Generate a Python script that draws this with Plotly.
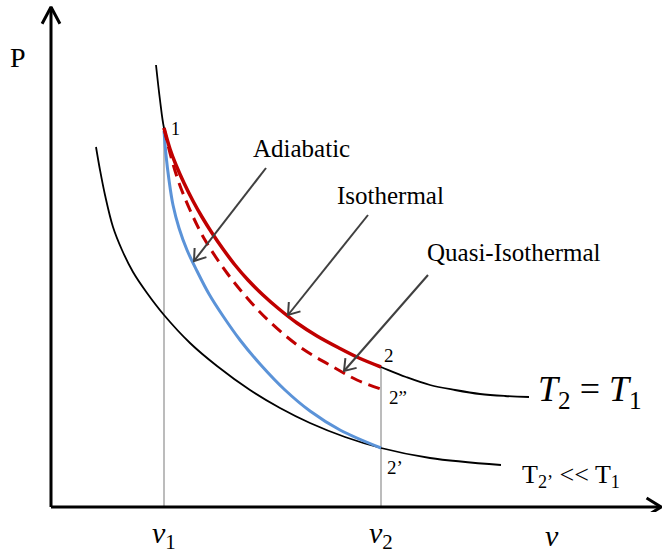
import math
import plotly.graph_objects as go

# ---------------- data (schematic P-v diagram, arbitrary units) ----------------
v1 = 1.13
v2 = 3.30

# upper isotherm  T2 = T1
upper_v = [1.05, 1.09, 1.13, 1.19, 1.25, 1.33, 1.42, 1.51, 1.61, 1.72, 1.84, 1.97, 2.12, 2.28,
           2.46, 2.66, 2.88, 3.08, 3.30, 3.55, 3.79, 4.04, 4.29, 4.54, 4.78]
upper_P = [4.42, 4.07, 3.79, 3.58, 3.42, 3.24, 3.06, 2.90, 2.74, 2.58, 2.42, 2.27, 2.12, 1.98,
           1.84, 1.71, 1.59, 1.49, 1.40, 1.30, 1.22, 1.17, 1.13, 1.11, 1.10]

# lower isotherm  T2' << T1
lower_v = [0.45, 0.49, 0.54, 0.62, 0.71, 0.82, 0.96, 1.13, 1.39, 1.66, 1.99, 2.29, 2.59, 2.94, 3.30, 3.79, 4.50]
lower_P = [3.60, 3.37, 3.12, 2.80, 2.57, 2.35, 2.14, 1.92, 1.64, 1.41, 1.17, 0.99, 0.84, 0.70, 0.59, 0.49, 0.42]

# isothermal process 1 -> 2 (lies on the upper isotherm)
iso_v = [1.13, 1.19, 1.25, 1.33, 1.42, 1.51, 1.61, 1.72, 1.84, 1.97, 2.12, 2.28, 2.46, 2.66, 2.88, 3.08, 3.30]
iso_P = [3.79, 3.58, 3.42, 3.24, 3.06, 2.90, 2.74, 2.58, 2.42, 2.27, 2.12, 1.98, 1.84, 1.71, 1.59, 1.49, 1.40]

# quasi-isothermal process 1 -> 2''
quasi_v = [1.13, 1.19, 1.27, 1.39, 1.54, 1.76, 1.97, 2.19, 2.49, 2.84, 3.06, 3.30]
quasi_P = [3.79, 3.54, 3.27, 2.97, 2.67, 2.34, 2.08, 1.85, 1.60, 1.39, 1.27, 1.18]

# adiabatic process 1 -> 2'
adia_v = [1.13, 1.15, 1.18, 1.22, 1.28, 1.36, 1.46, 1.58, 1.72, 1.89, 2.09, 2.34, 2.59, 2.89, 3.30]
adia_P = [3.76, 3.52, 3.27, 3.02, 2.79, 2.57, 2.36, 2.13, 1.91, 1.67, 1.43, 1.17, 0.96, 0.77, 0.59]

# callout labels and their arrows (tail -> tip)
callout_labels = ["Adiabatic", "Isothermal", "Quasi-Isothermal"]
callout_tail_v = [2.15, 3.17, 3.77]
callout_tail_P = [3.39, 2.92, 2.32]
callout_tip_v = [1.43, 2.37, 2.93]
callout_tip_P = [2.46, 1.92, 1.36]

state_labels = ["1", "2", "2\u201d", "2\u2019"]
tick_labels = ["<i>v</i><sub>1</sub>", "<i>v</i><sub>2</sub>", "<i>v</i>"]

# ---------------- layout geometry ----------------
W, H = 662, 558
ML, MR, MT, MB = 36, 0, 5, 46
XR = [-0.15, 6.11]
YR = [-0.05, 5.02]
PW = W - ML - MR
PH = H - MT - MB

def pxx(px):
    return (px - ML) / PW

def pxy(py):
    return (H - MB - py) / PH

SERIF = "Liberation Serif, Times New Roman, serif"
BLACK = "#000000"
RED = "#C00000"
BLUE = "#5B93D8"
GRAY = "#A6A6A6"
ARROW = "#404040"

fig = go.Figure()

def chevron(tip_x, tip_y, from_x, from_y, arm=0.13, half_deg=35):
    ang = math.atan2(from_y - tip_y, from_x - tip_x)
    h = math.radians(half_deg)
    a1 = (tip_x + arm * math.cos(ang + h), tip_y + arm * math.sin(ang + h))
    a2 = (tip_x + arm * math.cos(ang - h), tip_y + arm * math.sin(ang - h))
    return [a1[0], tip_x, a2[0]], [a1[1], tip_y, a2[1]]

def line(xs, ys, color, width, dash="solid"):
    fig.add_trace(go.Scatter(x=xs, y=ys, mode="lines", showlegend=False, hoverinfo="skip",
                             line=dict(color=color, width=width, dash=dash, shape="spline", smoothing=1.0)))

def straight(xs, ys, color, width):
    fig.add_trace(go.Scatter(x=xs, y=ys, mode="lines", showlegend=False, hoverinfo="skip",
                             line=dict(color=color, width=width)))

# gray verticals at v1 and v2
straight([v1, v1], [adia_P[0], 0], GRAY, 1.5)
straight([v2, v2], [iso_P[-1], 0], GRAY, 1.5)

# isotherms
line(upper_v, upper_P, BLACK, 1.8)
line(lower_v, lower_P, BLACK, 1.8)

# processes
line(adia_v, adia_P, BLUE, 3)
line(quasi_v, quasi_P, RED, 3, dash="12px,7px")
line(iso_v, iso_P, RED, 3.5)

# axes with open arrowheads
x_end = XR[1] - 0.01
y_end = YR[1] - 0.02
straight([0, 0], [0, y_end], BLACK, 3)
straight([0, x_end], [0, 0], BLACK, 3)
cx, cy = chevron(0, y_end, 0, 0, arm=0.19, half_deg=28)
straight(cx, cy, BLACK, 3)
cx, cy = chevron(x_end, 0, 0, 0, arm=0.17, half_deg=32)
straight(cx, cy, BLACK, 3)

# callout arrows
for tv, tp, hv, hp in zip(callout_tail_v, callout_tail_P, callout_tip_v, callout_tip_P):
    straight([tv, hv], [tp, hp], ARROW, 2)
    cx, cy = chevron(hv, hp, tv, tp)
    straight(cx, cy, ARROW, 2)

annotations = []
def text(t, px, py, size, italic=False, xref="paper", x=None):
    annotations.append(dict(
        text=t, xref=xref, yref="paper",
        x=(x if x is not None else pxx(px)), y=pxy(py),
        xanchor="center", yanchor="middle", showarrow=False,
        font=dict(family=SERIF, size=size, color=BLACK,
                  style="italic" if italic else "normal")))

text("P", 18, 57.6, 28)
text(callout_labels[0], 301, 148.6, 25)
text(callout_labels[1], 390, 195.5, 25)
text(callout_labels[2], 513.5, 252, 25)
text(state_labels[0], 175, 129, 18)
text(state_labels[1], 389, 355, 19)
text(state_labels[2], 397.5, 397.5, 19)
text(state_labels[3], 395, 467.5, 19)
text("<i>T</i><sub>2</sub> = <i>T</i><sub>1</sub>", 590, 391, 36)
text("T<sub>2\u2019</sub> &lt;&lt; T<sub>1</sub>", 571, 476, 26)
text(tick_labels[0], 0, 535, 30, xref="x", x=v1)
text(tick_labels[1], 0, 535, 30, xref="x", x=v2)
text(tick_labels[2], 552, 535, 30)

fig.update_layout(
    width=W, height=H,
    margin=dict(l=ML, r=MR, t=MT, b=MB, pad=0),
    paper_bgcolor="white", plot_bgcolor="white",
    xaxis=dict(range=XR, visible=False, fixedrange=True),
    yaxis=dict(range=YR, visible=False, fixedrange=True),
    annotations=annotations,
    showlegend=False,
)

fig.write_html("out.html", config={"displayModeBar": False},
               post_script="document.body.style.margin='0';document.body.style.overflow='hidden';")
